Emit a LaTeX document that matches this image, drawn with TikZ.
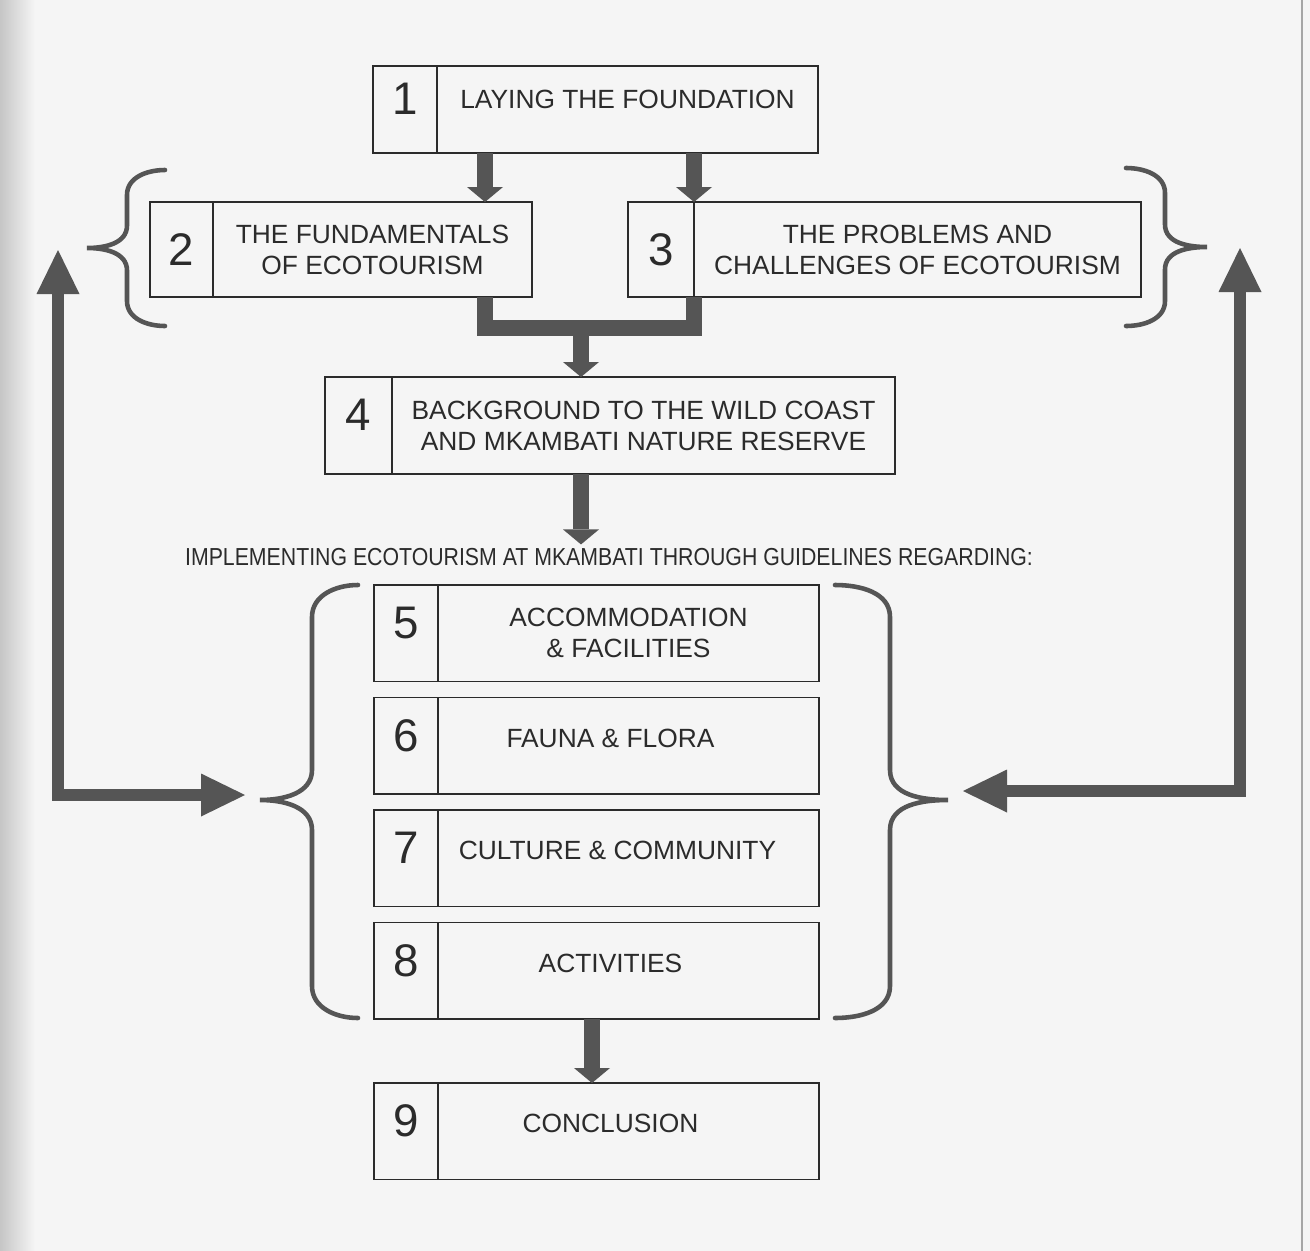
\documentclass[tikz,border=0pt]{standalone}
\usepackage{fontspec}
\setmainfont{Liberation Sans}
\newfontfamily\narrowfont{Liberation Sans}[FakeStretch=0.865]
\usepackage{tikz}
\usetikzlibrary{positioning,arrows.meta}

\definecolor{paper}{HTML}{F5F5F5}
\definecolor{ink}{HTML}{2B2B2B}
\definecolor{arrowgrey}{HTML}{555555}

\begin{document}
\begin{tikzpicture}[
    line join=miter,
    numcell/.style={%
      rectangle, draw=ink, line width=1.1pt, text=ink,
      inner sep=0pt, outer sep=0pt, anchor=north west,
      minimum width=1.28cm, minimum height=1.93cm,
      font=\fontsize{26}{30}\selectfont
    },
    txtcell/.style={%
      rectangle, draw=ink, line width=1.1pt, text=ink,
      inner sep=0pt, outer sep=0pt, align=center,
      minimum width=7.62cm, minimum height=1.93cm,
      font=\fontsize{15}{17.6}\selectfont
    },
    raised/.style={text depth=12pt},
    lift/.style={text depth=9pt},
    shl/.style={execute at end node={\hspace*{#1}}},
    shl/.default=0.72cm,
    impl/.style={text=ink, inner sep=2pt, font=\narrowfont\fontsize{14}{16}\selectfont},
    pipe/.style={draw=arrowgrey, line width=0.32cm},
    fat/.style={pipe, -{Triangle[width=0.72cm,length=0.3cm,line width=0pt]}},
    big/.style={%
      draw=arrowgrey, line width=0.24cm,
      {Triangle[width=0.86cm,length=0.88cm,line width=0pt]}-{Triangle[width=0.86cm,length=0.88cm,line width=0pt]}
    },
    brace/.style={draw=arrowgrey, line width=2.6pt, line cap=round}
]
    \useasboundingbox (0,0) rectangle (26.2,-25.02);
    \fill[paper] (0,0) rectangle (26.2,-25.02);
    \shade[left color=gray!45, right color=paper] (0,0) rectangle (0.7,-25.02);
    \draw[gray!70, line width=0.6pt] (26.04,0) -- (26.04,-25.02);

    % boxes
    \node[numcell, raised, minimum height=1.74cm] (n1) at (7.46,-1.32) {1};
    \node[txtcell, raised, minimum height=1.74cm] (t1) [right = 0pt of n1] {LAYING THE FOUNDATION};

    \node[numcell, minimum width=1.26cm, minimum height=1.9cm] (n2) at (3.00,-4.04) {2};
    \node[txtcell, minimum width=6.38cm, minimum height=1.9cm] (t2) [right = 0pt of n2] {THE FUNDAMENTALS\\OF ECOTOURISM};

    \node[numcell, minimum width=1.32cm, minimum height=1.9cm] (n3) at (12.56,-4.04) {3};
    \node[txtcell, minimum width=8.94cm, minimum height=1.9cm] (t3) [right = 0pt of n3] {THE PROBLEMS AND\\CHALLENGES OF ECOTOURISM};

    \node[numcell, raised, minimum width=1.34cm, minimum height=1.94cm] (n4) at (6.50,-7.54) {4};
    \node[txtcell, minimum width=10.06cm, minimum height=1.94cm] (t4) [right = 0pt of n4] {BACKGROUND TO THE WILD COAST\\AND MKAMBATI NATURE RESERVE};

    \node[impl] (impl) at (12.18,-11.14) {IMPLEMENTING ECOTOURISM AT MKAMBATI THROUGH GUIDELINES REGARDING:};

    \node[numcell, raised] (n5) at (7.48,-11.70) {5};
    \node[txtcell] (t5) [right = 0pt of n5] {ACCOMMODATION\\\& FACILITIES};
    \node[numcell, raised] (n6) [below = 0.32cm of n5] {6};
    \node[txtcell, lift, shl] (t6) [right = 0pt of n6] {FAUNA \& FLORA};
    \node[numcell, raised] (n7) [below = 0.32cm of n6] {7};
    \node[txtcell, lift, shl=0.44cm] (t7) [right = 0pt of n7] {CULTURE \& COMMUNITY};
    \node[numcell, raised] (n8) [below = 0.32cm of n7] {8};
    \node[txtcell, lift, shl] (t8) [right = 0pt of n8] {ACTIVITIES};
    \node[numcell, raised] (n9) [below = 1.28cm of n8] {9};
    \node[txtcell, lift, shl] (t9) [right = 0pt of n9] {CONCLUSION};

    \coordinate (c2) at (9.70,0);
    \coordinate (mg) at (11.62,-6.56);
    \coordinate (c9) at (11.84,0);
    \coordinate (ltop) at (1.16,-5.00);
    \coordinate (lend) at (4.90,-15.90);
    \coordinate (rtop) at (24.80,-4.96);
    \coordinate (rend) at (19.26,-15.82);

    % arrows
    \draw[fat] (c2 |- t1.south) -- (c2 |- t2.north);
    \draw[fat] (n3.north east |- t1.south) -- (n3.north east);
    \draw[pipe] (c2 |- t2.south) |- (mg) -| (n3.south east);
    \draw[fat] (mg) -- (mg |- t4.north);
    \draw[fat] (mg |- t4.south) -- (mg |- impl.north);
    \draw[fat] (c9 |- t8.south) -- (c9 |- t9.north);
    \draw[big] (ltop) |- (lend);
    \draw[big] (rtop) |- (rend);

    % braces
    \draw[brace] (3.30,-3.40) to[out=180,in=90] (2.54,-3.90) -- (2.54,-4.51)
        to[out=-90,in=0] (1.74,-4.96) to[out=0,in=90] (2.54,-5.41) -- (2.54,-6.02)
        to[out=-90,in=180] (3.30,-6.52);
    \draw[brace] (22.52,-3.36) to[out=0,in=90] (23.30,-3.86) -- (23.30,-4.49)
        to[out=-90,in=180] (24.14,-4.94) to[out=180,in=90] (23.30,-5.39) -- (23.30,-6.02)
        to[out=-90,in=0] (22.52,-6.52);
    \draw[brace] (7.16,-11.70) to[out=180,in=90] (6.24,-12.34) -- (6.24,-15.40)
        to[out=-90,in=0] (5.20,-16.00) to[out=0,in=90] (6.24,-16.60) -- (6.24,-19.72)
        to[out=-90,in=180] (7.16,-20.36);
    \draw[brace] (16.70,-11.70) to[out=0,in=90] (17.80,-12.34) -- (17.80,-15.40)
        to[out=-90,in=180] (18.96,-16.00) to[out=180,in=90] (17.80,-16.60) -- (17.80,-19.72)
        to[out=-90,in=0] (16.70,-20.36);

\end{tikzpicture}
\end{document}
